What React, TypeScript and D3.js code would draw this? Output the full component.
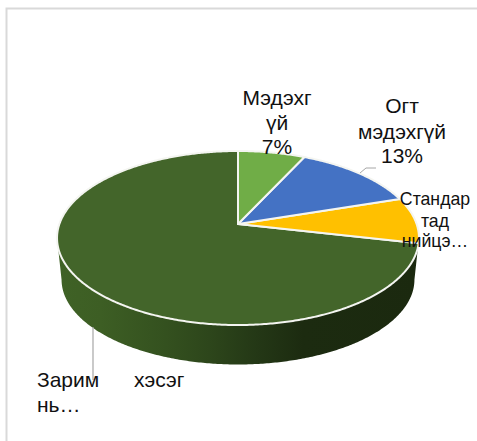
import React from "react";
import * as d3 from "d3";

const categories = ["Мэдэхгүй", "Огт мэдэхгүй", "Стандартад нийцэх", "Зарим нь хэсэг"];
const values = [7, 13, 8.5, 71.5];
const colors = ["#70ad47", "#4472c4", "#ffc000", "#43652a"];

const width = 477;
const height = 441;

// tilted disc, a bit of perspective so the near half comes out bigger
const cx = 238;
const cy = 224;
const rx = 178.6;
const ry = 84.75;
const persp = 0.161;
const wallScale = 0.975;
const wallDrop = 42;

const pieGen = d3.pie<number>().sort(null).startAngle(0).endAngle(2 * Math.PI);

function project(a: number, scale = 1, drop = 0): [number, number] {
  const u = Math.sin(a);
  const v = -Math.cos(a);
  const w = 1 - persp * v;
  return [cx + (scale * rx * u) / w, cy + drop + (scale * ry * v) / w];
}

function rim(a0: number, a1: number, scale = 1, drop = 0) {
  const n = Math.max(2, Math.ceil(Math.abs(a1 - a0) / 0.01));
  return d3.range(n + 1).map((i) => project(a0 + ((a1 - a0) * i) / n, scale, drop));
}

const line = d3.line();

export default function App() {
  const slices = pieGen(values);
  const tangent = Math.asin(persp);
  const a0 = Math.PI / 2 + tangent;
  const a1 = (3 * Math.PI) / 2 - tangent;
  const wall = [...rim(a0, a1), ...rim(a1, a0, wallScale, wallDrop)];
  const textStyle = { fontFamily: "'Liberation Sans', Arial, sans-serif", fontSize: 21, fill: "#111" };

  return (
    <svg
      width={width}
      height={height}
      style={{ position: "absolute", left: 0, top: 0, display: "block" }}
    >
      <defs>
        <linearGradient id="wall" x1="0" x2="1" y1="0" y2="0">
          <stop offset="0" stopColor="#3f6226" />
          <stop offset="0.12" stopColor="#3d5e24" />
          <stop offset="0.3" stopColor="#34511f" />
          <stop offset="0.42" stopColor="#2d461b" />
          <stop offset="0.55" stopColor="#243816" />
          <stop offset="0.68" stopColor="#1c2b10" />
          <stop offset="1" stopColor="#1b290f" />
        </linearGradient>
      </defs>
      <rect x={0} y={0} width={width} height={height} fill="#fff" />
      <path d={`M6.5 ${height}V8.5H${width}`} fill="none" stroke="#d9d9d9" strokeWidth={2} />

      <path d={line(wall as [number, number][]) + "Z"} fill="url(#wall)" />
      {slices
        .slice()
        .reverse()
        .map((s, i) => {
          const pts: [number, number][] = [[cx, cy], ...rim(s.startAngle, s.endAngle)];
          return (
            <path
              key={i}
              d={line(pts) + "Z"}
              fill={colors[s.index]}
              stroke="#f4f5f1"
              strokeWidth={2}
              strokeLinejoin="round"
            />
          );
        })}

      <path d="M360 173L366 168H376" fill="none" stroke="#a6a6a6" strokeWidth={1} />
      <path d="M93 327V380" fill="none" stroke="#a6a6a6" strokeWidth={1.2} />

      <g style={textStyle} textAnchor="middle">
        <text x={277} y={105}>Мэдэхг</text>
        <text x={277} y={130}>үй</text>
        <text x={277} y={154}>7%</text>
        <text x={402} y={113}>Огт</text>
        <text x={402} y={139}>мэдэхгүй</text>
        <text x={402} y={163}>13%</text>
      </g>
      <g style={{ ...textStyle, fontSize: 17.7 }} textAnchor="middle">
        <text x={435} y={205}>Стандар</text>
        <text x={435} y={227}>тад</text>
        <text x={435} y={247}>нийцэ…</text>
      </g>
      <g style={textStyle}>
        <text x={37} y={387}>Зарим</text>
        <text x={134} y={387}>хэсэг</text>
        <text x={37} y={412}>нь…</text>
      </g>
    </svg>
  );
}
